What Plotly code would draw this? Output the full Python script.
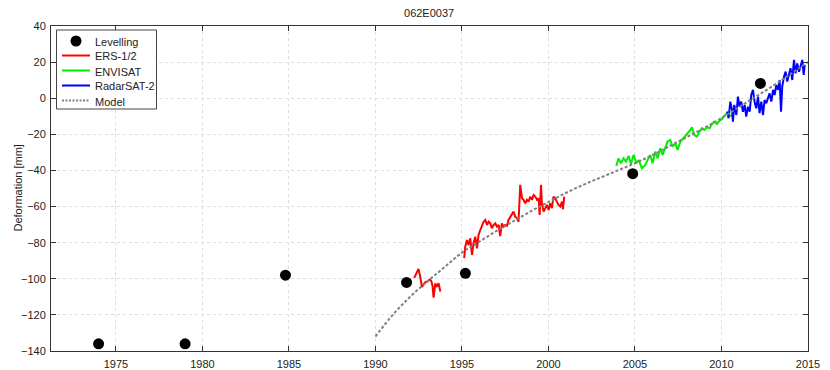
import plotly.graph_objects as go

# ---------------- data ----------------
levelling_years = [1974.0, 1979.0, 1984.8, 1991.8, 1995.2, 2004.87, 2012.25]
levelling_mm = [-136, -136, -98, -102, -97, -41.8, 8.2]

ers_years = [1992.24, 1992.37, 1992.49, 1992.59, 1992.69, 1992.79, 1992.88, 1993.0, 1993.13, 1993.22,
             1993.3, 1993.36, 1993.46, 1993.55, 1993.65, 1993.75,
             None,
             1995.13, 1995.19, 1995.29, 1995.38, 1995.48, 1995.58, 1995.67, 1995.77, 1995.87, 1995.96,
             1996.06, 1996.16, 1996.25, 1996.35, 1996.45, 1996.54, 1996.64, 1996.73, 1996.83, 1996.93,
             1997.02, 1997.12, 1997.21, 1997.31, 1997.40, 1997.50, 1997.60, 1997.69, 1997.79, 1997.89,
             1997.98, 1998.08, 1998.18, 1998.27, 1998.37, 1998.47, 1998.56, 1998.66, 1998.76, 1998.85,
             1998.95, 1999.05, 1999.14, 1999.24, 1999.34, 1999.43, 1999.49, 1999.57, 1999.62, 1999.72,
             1999.81, 1999.91, 2000.01, 2000.10, 2000.20, 2000.29, 2000.39, 2000.49, 2000.58, 2000.68,
             2000.78, 2000.84, 2000.91]
ers_mm = [-99.5, -97, -94.5, -99, -104.5, -103, -102, -101.5, -100.5, -101,
          -104, -110.5, -102.5, -104.5, -102.5, -107,
          None,
          -88.6, -82.2, -78.5, -81.3, -77.6, -86.8, -80.3, -76.7, -83.1, -75.7,
          -73, -70.2, -68.4, -67.4, -70.2, -68.4, -69.3, -72, -70.2, -69.3,
          -71.1, -70.2, -76.3, -69.3, -71.1, -70.2, -70.7, -67.4, -65.6, -63.7,
          -62.8, -65.6, -66.5, -68.4, -48, -55.4, -56.3, -58.2, -56.3, -57.3,
          -54.5, -56.3, -53.6, -54.5, -56.3, -55.4, -64.6, -48, -58.2, -62.8,
          -60.9, -59.1, -61.9, -58.2, -60.9, -54.5, -55.4, -57.3, -59.1, -60,
          -57.3, -61.5, -54.5]

envisat_years = [2003.92, 2004.05, 2004.19, 2004.34, 2004.48, 2004.63, 2004.77, 2004.92, 2005.08, 2005.21,
                 2005.40, 2005.60, 2005.73, 2005.88, 2006.02, 2006.17, 2006.31, 2006.46, 2006.60, 2006.75,
                 2006.88, 2007.04, 2007.17, 2007.33, 2007.46, 2007.62, 2007.77, 2007.91, 2008.04, 2008.20,
                 2008.29, 2008.43, 2008.58, 2008.73, 2008.87, 2009.01, 2009.16, 2009.31, 2009.45, 2009.58,
                 2009.74, 2009.89, 2010.03, 2010.16, 2010.32, 2010.47, 2010.61]
envisat_mm = [-37.5, -33.3, -36, -33.3, -35.1, -32, -36.4, -31.4, -36, -34.2,
              -38.8, -37, -34.2, -31.4, -36, -29.6, -33.3, -27.7, -31.4, -26.8,
              -24.1, -23.1, -26.8, -25, -28.7, -24.1, -22.2, -20.4, -19.4, -17.6,
              -16.1, -20.4, -21.3, -18.5, -16.6, -17.6, -16.1, -16.6, -14.3, -13,
              -14.3, -12.4, -11.7, -9.8, -8.3, -9.3, -10.2]

radarsat_years = [2010.32, 2010.41, 2010.51, 2010.61, 2010.66, 2010.74, 2010.86, 2010.95, 2011.05, 2011.14,
                  2011.24, 2011.34, 2011.43, 2011.53, 2011.63, 2011.72, 2011.82, 2011.91, 2012.01, 2012.11,
                  2012.20, 2012.30, 2012.40, 2012.49, 2012.59, 2012.69, 2012.78, 2012.88, 2012.98, 2013.07,
                  2013.17, 2013.27, 2013.36, 2013.44, 2013.51, 2013.61, 2013.71, 2013.80, 2013.90, 2013.99,
                  2014.09, 2014.19, 2014.28, 2014.38, 2014.48, 2014.57, 2014.67, 2014.75, 2014.81]
radarsat_mm = [-7.4, -11.1, -1.9, -6.5, -13, -3.7, -9.3, 0.9, -4.7, -1.9,
               -7.5, -3.7, -10.2, -4.7, -7.5, 1.8, 4.6, -1.9, -5.6, 0.9,
               -8.3, -1.9, -9.3, -1, -2.8, 0, 2.7, -1.9, 4.6, 1.8,
               7.3, 4.6, 10.1, -7.5, 6.4, 11.9, 14.7, 9.2, 12.9, 16.6,
               10.1, 21.2, 13.8, 19.3, 14.7, 17.5, 21.2, 12.9, 18.4]

model_years = [1990, 1991, 1992, 1993, 1994, 1995, 1996, 1997, 1998, 1999, 2000, 2001, 2002,
               2003, 2004, 2005, 2006, 2007, 2008, 2009, 2010, 2011, 2012, 2013, 2014, 2015]
model_mm = [-132, -120, -110, -101.5, -93.5, -85.5, -79.5, -73.5, -68, -62.5, -57.5, -52.5, -48,
            -44, -40, -36, -31.5, -26.5, -21.5, -16.5, -11, -5, 1, 7, 13.5, 20]

x_tick_vals = [1975, 1980, 1985, 1990, 1995, 2000, 2005, 2010, 2015]
y_tick_vals = [-140, -120, -100, -80, -60, -40, -20, 0, 20, 40]

legend_names = ["Levelling", "ERS-1/2", "ENVISAT", "RadarSAT-2", "Model"]
legend_colors = ["black", "#ff0000", "#00ee00", "#0000ff", "#808080"]

FONT = "Liberation Sans, Arial, Helvetica, sans-serif"
W, H = 830, 370
ML, MR, MT, MB = 51, 22, 26, 19
PW, PH = W - ML - MR, H - MT - MB


def px(x):
    return (x - ML) / PW


def py(y):
    return (H - MB - y) / PH


fig = go.Figure()
fig.add_trace(go.Scatter(x=levelling_years, y=levelling_mm, mode="markers", name=legend_names[0],
                         marker=dict(color="black", size=11), showlegend=False))
fig.add_trace(go.Scatter(x=ers_years, y=ers_mm, mode="lines", name=legend_names[1],
                         line=dict(color=legend_colors[1], width=2), connectgaps=False, showlegend=False))
fig.add_trace(go.Scatter(x=envisat_years, y=envisat_mm, mode="lines", name=legend_names[2],
                         line=dict(color=legend_colors[2], width=2), showlegend=False))
fig.add_trace(go.Scatter(x=radarsat_years, y=radarsat_mm, mode="lines", name=legend_names[3],
                         line=dict(color=legend_colors[3], width=2), showlegend=False))
fig.add_trace(go.Scatter(x=model_years, y=model_mm, mode="lines", name=legend_names[4],
                         line=dict(color=legend_colors[4], width=2, dash="3px,2px", shape="spline"),
                         showlegend=False))

axis_common = dict(showline=True, linecolor="#333", linewidth=1, mirror="ticks",
                   ticks="inside", ticklen=5, tickcolor="#333", automargin=False,
                   showgrid=True, gridcolor="#dedede", griddash="dot", gridwidth=1,
                   zeroline=False, tickfont=dict(family=FONT, size=11, color="#222"))

fig.update_xaxes(range=[1971.25, 2015], tickvals=x_tick_vals, ticklabelstandoff=3, **axis_common)
fig.update_yaxes(range=[-140, 40], tickvals=y_tick_vals, ticklabelstandoff=2, **axis_common)

# ---- compact legend box (drawn manually, MATLAB style) ----
shapes = [dict(type="rect", xref="paper", yref="paper",
               x0=px(56.5), x1=px(156.5), y0=py(109), y1=py(30),
               fillcolor="white", line=dict(color="#444", width=1), layer="above")]
annotations = [dict(text="Deformation [mm]", xref="paper", yref="paper", x=px(17), y=0.5,
                    xanchor="center", yanchor="middle", textangle=-90, showarrow=False,
                    font=dict(family=FONT, size=11, color="#222"))]
row_y = [41, 55.5, 70.5, 85.5, 100.5]
for i, (name, col) in enumerate(zip(legend_names, legend_colors)):
    yy = row_y[i]
    if i == 0:
        shapes.append(dict(type="circle", xref="paper", yref="paper",
                           x0=px(70.5), x1=px(81.5), y0=py(yy + 5.5), y1=py(yy - 5.5),
                           fillcolor="black", line=dict(color="black", width=0), layer="above"))
    else:
        shapes.append(dict(type="line", xref="paper", yref="paper",
                           x0=px(62), x1=px(90), y0=py(yy), y1=py(yy),
                           line=dict(color=col, width=2, dash="2px,1.5px" if i == 4 else "solid"),
                           layer="above"))
    annotations.append(dict(text=name, xref="paper", yref="paper", x=px(92.5), y=py(yy + 1),
                            xanchor="left", yanchor="middle", showarrow=False,
                            font=dict(family=FONT, size=11, color="#222")))

fig.update_layout(
    width=W, height=H,
    margin=dict(l=ML, r=MR, t=MT, b=MB, autoexpand=False),
    paper_bgcolor="white", plot_bgcolor="white",
    title=dict(text="062E0037", x=0.517, xanchor="center", y=0.965, yanchor="middle",
               font=dict(family=FONT, size=11, color="#222")),
    font=dict(family=FONT, size=11, color="#222"),
    showlegend=False,
    shapes=shapes,
    annotations=annotations,
)

fig.write_html("out.html", config={"displayModeBar": False},
               post_script="document.body.style.margin='0px';")
